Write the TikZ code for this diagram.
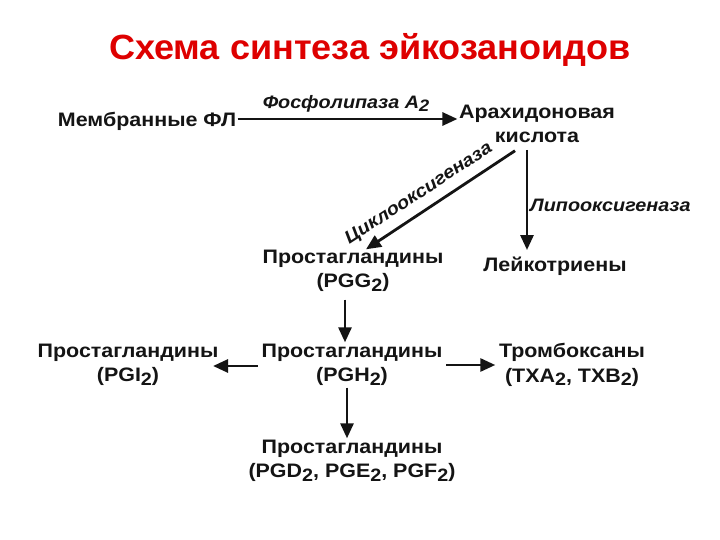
\documentclass[tikz,border=0pt]{standalone}
\usepackage{fontspec}
\setmainfont{Liberation Sans}
\newfontfamily\widefont[FakeStretch=1.1]{Liberation Sans}
\newfontfamily\titlefont[FakeStretch=1.03]{Liberation Sans}
\usetikzlibrary{arrows.meta}
\definecolor{titlered}{RGB}{222,0,0}
\definecolor{ink}{RGB}{20,20,20}
\newcommand\subt[1]{\raisebox{-0.35ex}{\scalebox{0.92}{#1}}}
\begin{document}
\begin{tikzpicture}[x=1pt,y=-1pt,
  lbl/.style={font=\widefont\fontsize{19.5}{24.5}\selectfont\bfseries, align=center, inner sep=1.5pt, text=ink},
  enz/.style={font=\widefont\fontsize{18}{21}\selectfont\bfseries\itshape, inner sep=1pt, text=ink},
  arr/.style={line width=2.8pt, draw=ink, -{Triangle[length=15pt,width=13pt]}}]
\useasboundingbox[fill=white] (0,0) rectangle (720,540);
\node[font=\titlefont\fontsize{35}{40}\selectfont\bfseries, text=titlered] (title) at (370,50) {Схема синтеза эйкозаноидов};
\node[lbl] (mem) at (147,121) {Мембранные ФЛ};
\node[lbl] (aa) at (537,124) {Арахидоновая\\кислота};
\node[lbl] (leuk) at (555,266) {Лейкотриены};
\node[lbl] (pgg) at (353,271) {Простагландины\\(PGG\subt{2})};
\node[lbl] (pgh) at (352,365) {Простагландины\\(PGH\subt{2})};
\node[lbl] (pgi) at (128,365) {Простагландины\\(PGI\subt{2})};
\node[lbl] (tx) at (572,365) {Тромбоксаны\\(TXA\subt{2}, TXB\subt{2})};
\node[lbl] (pgd) at (352,461) {Простагландины\\(PGD\subt{2}, PGE\subt{2}, PGF\subt{2})};

\draw[arr] ([yshift=2pt]mem.east) -- ([yshift=2pt]mem.east -| aa.west);
\node[enz] (pla) at (346,104) {Фосфолипаза A\subt{2}};

\coordinate (lx) at (527,0);
\draw[arr] ([yshift=-5pt]aa.south -| lx) -- ([yshift=5pt]leuk.north -| lx);
\node[enz, anchor=west] (lox) at (529,205) {Липооксигеназа};

\draw[arr] ([xshift=-22pt,yshift=-6pt]aa.south) -- ([xshift=13pt,yshift=-1pt]pgg.north);
\node[enz, rotate=33] (cox) at (419,194) {Циклооксигеназа};

\draw[arr] ([xshift=-8pt,yshift=-6pt]pgg.south) -- ([xshift=-7pt]pgh.north);
\draw[arr] ([xshift=-2pt,yshift=-1pt]pgh.west) -- ([xshift=-7pt,yshift=-1pt]pgi.east);
\draw[arr] ([xshift=2pt]pgh.east) -- ([xshift=-2pt]tx.west);
\draw[arr] ([xshift=-5pt]pgh.south) -- ([xshift=-5pt]pgd.north);
\end{tikzpicture}
\end{document}
